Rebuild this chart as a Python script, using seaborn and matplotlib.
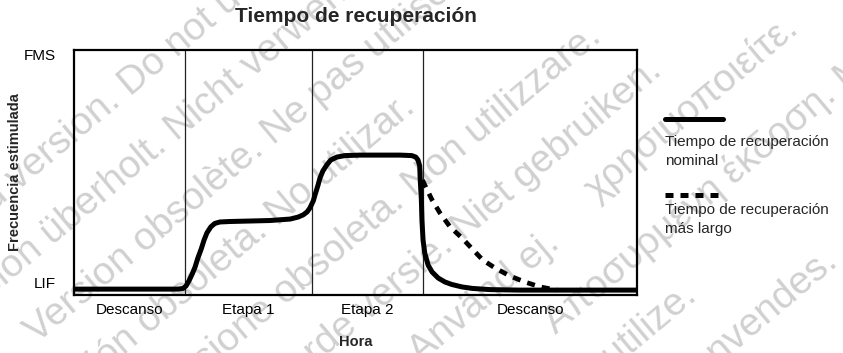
import math
import matplotlib
matplotlib.use("Agg")
import matplotlib.pyplot as plt
import seaborn as sns
from matplotlib.lines import Line2D

# Hora: % of the recording window; frecuencia: % of the LIF..FMS range
hora_nominal = [0.0, 13.5, 18.5, 19.4, 19.9, 20.4, 21.0, 21.5, 22.0, 22.6, 23.1, 23.6,
                24.3, 25.0, 25.9, 27.7, 31.3, 34.8, 38.4, 39.8, 40.7, 41.4, 41.9, 42.5,
                42.8, 43.3, 43.7, 44.2, 44.9, 45.6, 46.7, 48.1, 50.8, 57.9, 60.0, 60.7,
                61.1, 61.4, 61.5, 61.7, 61.8, 62.0, 62.3, 62.9, 63.6, 64.7, 65.9, 67.1,
                68.9, 70.7, 73.9, 79.2, 100.0]
frec_nominal = [2.4, 2.4, 2.4, 2.7, 3.7, 5.7, 8.6, 11.4, 15.1, 18.8, 22.4, 25.3,
                27.8, 29.2, 29.8, 30.0, 30.2, 30.4, 31.0, 31.8, 32.7, 33.9, 35.5, 38.4,
                40.8, 44.5, 47.8, 50.6, 53.1, 55.1, 56.3, 56.9, 57.1, 57.1, 56.9, 56.3,
                55.1, 52.7, 46.9, 38.8, 30.6, 22.4, 17.1, 12.2, 9.4, 6.9, 5.3, 4.3,
                3.3, 2.7, 2.2, 2.0, 2.0]

hora_largo = [61.9, 62.3, 63.6, 65.0, 66.8, 68.9, 70.9, 72.6, 74.8, 77.4, 80.1, 82.8, 85.8]
frec_largo = [46.9, 44.9, 38.8, 33.5, 27.8, 23.3, 18.4, 14.3, 11.0, 7.8, 5.3, 3.3, 2.0]

etapas = ["Descanso", "Etapa 1", "Etapa 2", "Descanso"]
limites = [0.0, 19.7, 42.3, 62.0, 100.0]
niveles = [4.9, 98.0]
nombres_niveles = ["LIF", "FMS"]

sns.set_theme(style="white")
plt.rcParams["font.family"] = ["Liberation Sans", "DejaVu Sans"]

W, H = 843, 353
fig = plt.figure(figsize=(W / 100, H / 100), dpi=100)
fig.patch.set_facecolor("white")

def fx(px):
    return px / W

def fy(py):
    return 1 - py / H

# watermark: lines at 40 deg, placed by (along, across) offsets from the centre
ang = math.radians(40)
cx, cy = 421, 176
marca = [
    ("Outdated version. Do not use.", -231, -258),
    ("Version überholt. Nicht verwenden.", -166, -193),
    ("Version obsolète. Ne pas utiliser.", -120, -128),
    ("Versión obsoleta. No utilizar.", -206, -63),
    ("Versione obsoleta. Non utilizzare.", -61, 2),
    ("Verouderde versie. Niet gebruiken.", -48, 67),
    ("Föråldrad version. Använd ej.", -190, 132),
    ("Αποσυρμένη έκδοση. Μην τη χρησιμοποιείτε.", 390, 197),
    ("Versão obsoleta. Não utilize.", -112, 262),
    ("Forældet version. Må ikke anvendes.", -55, 327),
]
for txt, a, p in marca:
    px = cx + a * math.cos(ang) + p * math.sin(ang)
    py = cy - a * math.sin(ang) + p * math.cos(ang)
    fig.text(fx(px), fy(py), txt, fontsize=28, color="#d0d0d0", rotation=40,
             rotation_mode="anchor", ha="center", va="center", zorder=-5)
# tail of a Greek line reaching the top right corner
a, p = 384, 122
fig.text(fx(cx + a * math.cos(ang) + p * math.sin(ang)),
         fy(cy - a * math.sin(ang) + p * math.cos(ang)),
         "χρησιμοποιείτε.", fontsize=28, color="#d0d0d0", rotation=40,
         rotation_mode="anchor", ha="right", va="center", zorder=-5)

ax = fig.add_axes([fx(74), fy(295), fx(637) - fx(74), (295 - 50) / H])
ax.set_facecolor("none")

sns.lineplot(x=hora_nominal, y=frec_nominal, ax=ax, color="black", lw=3.6,
             sort=False, estimator=None, solid_capstyle="round", zorder=4)
sns.lineplot(x=hora_largo, y=frec_largo, ax=ax, color="black", lw=3.4,
             sort=False, estimator=None, linestyle=(0, (1.7, 1.5)), zorder=3)

for b in limites[1:-1]:
    ax.axvline(b, color="#222222", lw=0.9, zorder=2)

ax.set_xlim(limites[0], limites[-1])
ax.set_ylim(0, 100)
for s in ax.spines.values():
    s.set_visible(True)
    s.set_color("black")
    s.set_linewidth(1.6)

centros = [(limites[i] + limites[i + 1]) / 2 for i in range(len(etapas))]
ax.set_xticks(centros, etapas)
ax.set_yticks(niveles, nombres_niveles)
ax.tick_params(axis="x", length=0, pad=6, labelsize=11, labelcolor="black")
ax.tick_params(axis="y", length=0, pad=13, labelsize=11, labelcolor="black")

ax.set_xlabel("Hora", fontsize=10.5, fontweight="bold", va="center")
ax.xaxis.set_label_coords(0.5, -0.192)
ax.set_ylabel("Frecuencia estimulada", fontsize=10.5, fontweight="bold", va="center")
ax.yaxis.set_label_coords(-0.105, 0.5)

fig.text(fx(355.5), fy(17), "Tiempo de recuperación", fontsize=15,
         fontweight="bold", ha="center", va="center")

# legend drawn by hand: sample line above a two-line label
fig.add_artist(Line2D([fx(665), fx(723)], [fy(119), fy(119)], color="black",
                      lw=3.6, transform=fig.transFigure))
fig.add_artist(Line2D([fx(665), fx(718)], [fy(195), fy(195)], color="black",
                      lw=3.6, linestyle=(0, (1.6, 1.4)), transform=fig.transFigure))
for txt, py in [("Tiempo de recuperación", 142), ("nominal", 161),
                ("Tiempo de recuperación", 210), ("más largo", 229)]:
    fig.text(fx(665), fy(py), txt, fontsize=11, ha="left", va="center")

fig.savefig("out.png", dpi=100, facecolor="white")
